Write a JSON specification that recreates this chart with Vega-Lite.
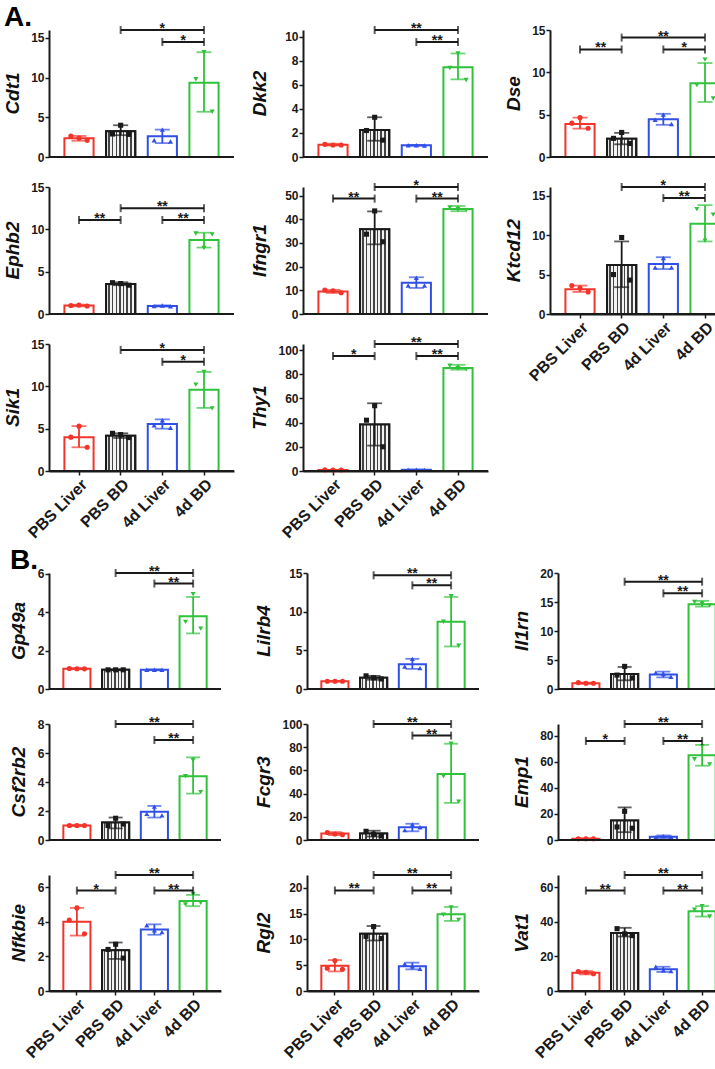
{
"$schema": "https://vega.github.io/schema/vega-lite/v6.json",
"padding": {"left": 4, "top": 4, "right": 0, "bottom": 0},
"datasets": {
"A1": [
{"gene":"Cdt1","grp":"PBS Liver","m":2.35,"lo":2.05,"hi":2.65,"p1":2.65,"p2":2.4,"p3":2.1},
{"gene":"Cdt1","grp":"PBS BD","m":3.25,"lo":2.75,"hi":4.0,"p1":2.9,"p2":4.0,"p3":2.85},
{"gene":"Cdt1","grp":"4d Liver","m":2.6,"lo":1.75,"hi":3.45,"p1":2.1,"p2":3.45,"p3":1.95},
{"gene":"Cdt1","grp":"4d BD","m":9.35,"lo":5.7,"hi":13.2,"p1":9.8,"p2":13.2,"p3":5.7},
{"gene":"Cdt1","from":"PBS BD","to":"4d BD","by":16.0,"lab":"*"},
{"gene":"Cdt1","from":"4d Liver","to":"4d BD","by":14.5,"lab":"*"},
{"gene":"Cdt1","top":15},
{"gene":"Ephb2","grp":"PBS Liver","m":1.0,"lo":0.9,"hi":1.1,"p1":1.0,"p2":1.05,"p3":0.95},
{"gene":"Ephb2","grp":"PBS BD","m":3.55,"lo":3.4,"hi":3.75,"p1":3.7,"p2":3.6,"p3":3.4},
{"gene":"Ephb2","grp":"4d Liver","m":0.95,"lo":0.88,"hi":1.02,"p1":0.95,"p2":1.0,"p3":0.92},
{"gene":"Ephb2","grp":"4d BD","m":8.75,"lo":7.85,"hi":9.6,"p1":9.5,"p2":7.8,"p3":9.4},
{"gene":"Ephb2","from":"PBS Liver","to":"PBS BD","by":11.1,"lab":"**"},
{"gene":"Ephb2","from":"PBS BD","to":"4d BD","by":12.5,"lab":"**"},
{"gene":"Ephb2","from":"4d Liver","to":"4d BD","by":11.1,"lab":"**"},
{"gene":"Ephb2","top":15},
{"gene":"Sik1","grp":"PBS Liver","m":4.0,"lo":2.8,"hi":5.3,"p1":4.0,"p2":5.3,"p3":2.8},
{"gene":"Sik1","grp":"PBS BD","m":4.15,"lo":3.9,"hi":4.45,"p1":4.45,"p2":4.3,"p3":3.95},
{"gene":"Sik1","grp":"4d Liver","m":5.55,"lo":5.0,"hi":6.1,"p1":5.4,"p2":6.0,"p3":5.1},
{"gene":"Sik1","grp":"4d BD","m":9.6,"lo":7.45,"hi":11.7,"p1":10.2,"p2":11.7,"p3":7.4},
{"gene":"Sik1","from":"PBS BD","to":"4d BD","by":14.3,"lab":"*"},
{"gene":"Sik1","from":"4d Liver","to":"4d BD","by":12.9,"lab":"*"},
{"gene":"Sik1","top":15}
],
"A2": [
{"gene":"Dkk2","grp":"PBS Liver","m":1.02,"lo":0.95,"hi":1.1,"p1":1.05,"p2":1.0,"p3":1.0},
{"gene":"Dkk2","grp":"PBS BD","m":2.25,"lo":1.35,"hi":3.3,"p1":2.2,"p2":3.3,"p3":1.4},
{"gene":"Dkk2","grp":"4d Liver","m":0.97,"lo":0.93,"hi":1.0,"p1":0.98,"p2":0.97,"p3":0.96},
{"gene":"Dkk2","grp":"4d BD","m":7.45,"lo":6.45,"hi":8.6,"p1":7.4,"p2":8.6,"p3":6.4},
{"gene":"Dkk2","from":"PBS BD","to":"4d BD","by":10.55,"lab":"**"},
{"gene":"Dkk2","from":"4d Liver","to":"4d BD","by":9.55,"lab":"**"},
{"gene":"Dkk2","top":10},
{"gene":"Ifngr1","grp":"PBS Liver","m":9.5,"lo":8.9,"hi":10.2,"p1":10.1,"p2":9.8,"p3":9.0},
{"gene":"Ifngr1","grp":"PBS BD","m":35.8,"lo":29.4,"hi":43.3,"p1":33.7,"p2":43.5,"p3":30.5},
{"gene":"Ifngr1","grp":"4d Liver","m":13.2,"lo":11.0,"hi":15.5,"p1":12.0,"p2":15.3,"p3":12.0},
{"gene":"Ifngr1","grp":"4d BD","m":44.3,"lo":43.4,"hi":45.6,"p1":45.0,"p2":44.3,"p3":43.8},
{"gene":"Ifngr1","from":"PBS Liver","to":"PBS BD","by":48.7,"lab":"**"},
{"gene":"Ifngr1","from":"PBS BD","to":"4d BD","by":53.6,"lab":"*"},
{"gene":"Ifngr1","from":"4d Liver","to":"4d BD","by":48.7,"lab":"**"},
{"gene":"Ifngr1","top":50},
{"gene":"Thy1","grp":"PBS Liver","m":0.8,"lo":0.6,"hi":1.0,"p1":0.9,"p2":0.8,"p3":0.8},
{"gene":"Thy1","grp":"PBS BD","m":38.5,"lo":21,"hi":56,"p1":42,"p2":54,"p3":20},
{"gene":"Thy1","grp":"4d Liver","m":1.0,"lo":0.8,"hi":1.2,"p1":1.0,"p2":1.1,"p3":0.9},
{"gene":"Thy1","grp":"4d BD","m":85.2,"lo":83.8,"hi":87.8,"p1":87,"p2":85,"p3":84},
{"gene":"Thy1","from":"PBS Liver","to":"PBS BD","by":95,"lab":"*"},
{"gene":"Thy1","from":"PBS BD","to":"4d BD","by":105,"lab":"**"},
{"gene":"Thy1","from":"4d Liver","to":"4d BD","by":95,"lab":"**"},
{"gene":"Thy1","top":100}
],
"A3": [
{"gene":"Dse","grp":"PBS Liver","m":3.9,"lo":3.35,"hi":4.65,"p1":4.0,"p2":4.65,"p3":3.4},
{"gene":"Dse","grp":"PBS BD","m":2.15,"lo":1.5,"hi":2.85,"p1":2.2,"p2":2.9,"p3":1.6},
{"gene":"Dse","grp":"4d Liver","m":4.45,"lo":3.8,"hi":5.1,"p1":4.4,"p2":5.0,"p3":3.9},
{"gene":"Dse","grp":"4d BD","m":8.7,"lo":6.5,"hi":11.1,"p1":8.5,"p2":11.5,"p3":6.9},
{"gene":"Dse","from":"PBS Liver","to":"PBS BD","by":12.7,"lab":"**"},
{"gene":"Dse","from":"PBS BD","to":"4d BD","by":14.1,"lab":"**"},
{"gene":"Dse","from":"4d Liver","to":"4d BD","by":12.7,"lab":"*"},
{"gene":"Dse","top":15},
{"gene":"Ktcd12","grp":"PBS Liver","m":3.15,"lo":2.8,"hi":3.6,"p1":3.6,"p2":3.3,"p3":2.8},
{"gene":"Ktcd12","grp":"PBS BD","m":6.2,"lo":3.4,"hi":9.2,"p1":5.0,"p2":9.7,"p3":4.3},
{"gene":"Ktcd12","grp":"4d Liver","m":6.35,"lo":5.7,"hi":7.2,"p1":5.9,"p2":7.1,"p3":5.9},
{"gene":"Ktcd12","grp":"4d BD","m":11.45,"lo":9.2,"hi":13.8,"p1":13.3,"p2":9.3,"p3":12.6},
{"gene":"Ktcd12","from":"PBS BD","to":"4d BD","by":16.1,"lab":"*"},
{"gene":"Ktcd12","from":"4d Liver","to":"4d BD","by":14.7,"lab":"**"},
{"gene":"Ktcd12","top":15}
],
"B1": [
{"gene":"Gp49a","grp":"PBS Liver","m":1.06,"lo":1.03,"hi":1.09,"p1":1.07,"p2":1.06,"p3":1.05},
{"gene":"Gp49a","grp":"PBS BD","m":1.0,"lo":0.98,"hi":1.02,"p1":1.0,"p2":1.0,"p3":1.0},
{"gene":"Gp49a","grp":"4d Liver","m":1.0,"lo":0.98,"hi":1.02,"p1":1.0,"p2":1.0,"p3":1.0},
{"gene":"Gp49a","grp":"4d BD","m":3.8,"lo":2.9,"hi":4.8,"p1":3.5,"p2":4.95,"p3":3.15},
{"gene":"Gp49a","from":"PBS BD","to":"4d BD","by":6.05,"lab":"**"},
{"gene":"Gp49a","from":"4d Liver","to":"4d BD","by":5.5,"lab":"**"},
{"gene":"Gp49a","top":6},
{"gene":"Csf2rb2","grp":"PBS Liver","m":1.0,"lo":0.95,"hi":1.05,"p1":1.0,"p2":1.0,"p3":1.0},
{"gene":"Csf2rb2","grp":"PBS BD","m":1.2,"lo":0.8,"hi":1.55,"p1":1.0,"p2":1.5,"p3":1.1},
{"gene":"Csf2rb2","grp":"4d Liver","m":1.95,"lo":1.55,"hi":2.35,"p1":1.8,"p2":2.3,"p3":1.7},
{"gene":"Csf2rb2","grp":"4d BD","m":4.4,"lo":3.2,"hi":5.7,"p1":4.4,"p2":5.5,"p3":3.3},
{"gene":"Csf2rb2","from":"PBS BD","to":"4d BD","by":8.0,"lab":"**"},
{"gene":"Csf2rb2","from":"4d Liver","to":"4d BD","by":6.9,"lab":"**"},
{"gene":"Csf2rb2","top":8},
{"gene":"Nfkbie","grp":"PBS Liver","m":4.0,"lo":3.2,"hi":4.8,"p1":4.1,"p2":4.8,"p3":3.3},
{"gene":"Nfkbie","grp":"PBS BD","m":2.35,"lo":1.85,"hi":2.8,"p1":2.4,"p2":2.7,"p3":1.9},
{"gene":"Nfkbie","grp":"4d Liver","m":3.55,"lo":3.25,"hi":3.85,"p1":3.8,"p2":3.5,"p3":3.4},
{"gene":"Nfkbie","grp":"4d BD","m":5.2,"lo":4.9,"hi":5.55,"p1":5.0,"p2":5.6,"p3":5.1},
{"gene":"Nfkbie","from":"PBS Liver","to":"PBS BD","by":5.8,"lab":"*"},
{"gene":"Nfkbie","from":"PBS BD","to":"4d BD","by":6.7,"lab":"**"},
{"gene":"Nfkbie","from":"4d Liver","to":"4d BD","by":5.8,"lab":"**"},
{"gene":"Nfkbie","top":6}
],
"B2": [
{"gene":"Lilrb4","grp":"PBS Liver","m":1.0,"lo":0.95,"hi":1.05,"p1":1.0,"p2":1.0,"p3":1.0},
{"gene":"Lilrb4","grp":"PBS BD","m":1.45,"lo":1.2,"hi":1.7,"p1":1.7,"p2":1.45,"p3":1.3},
{"gene":"Lilrb4","grp":"4d Liver","m":3.2,"lo":2.6,"hi":3.9,"p1":2.9,"p2":3.9,"p3":2.7},
{"gene":"Lilrb4","grp":"4d BD","m":8.7,"lo":5.5,"hi":11.9,"p1":8.7,"p2":12.0,"p3":5.6},
{"gene":"Lilrb4","from":"PBS BD","to":"4d BD","by":14.7,"lab":"**"},
{"gene":"Lilrb4","from":"4d Liver","to":"4d BD","by":13.4,"lab":"**"},
{"gene":"Lilrb4","top":15},
{"gene":"Fcgr3","grp":"PBS Liver","m":5.5,"lo":4.2,"hi":6.8,"p1":6.5,"p2":5.2,"p3":4.5},
{"gene":"Fcgr3","grp":"PBS BD","m":5.5,"lo":3.0,"hi":8.0,"p1":7.5,"p2":5.0,"p3":3.5},
{"gene":"Fcgr3","grp":"4d Liver","m":11,"lo":7.5,"hi":14,"p1":8.5,"p2":13.5,"p3":11},
{"gene":"Fcgr3","grp":"4d BD","m":57,"lo":32,"hi":83,"p1":55,"p2":83,"p3":33},
{"gene":"Fcgr3","from":"PBS BD","to":"4d BD","by":100,"lab":"**"},
{"gene":"Fcgr3","from":"4d Liver","to":"4d BD","by":90,"lab":"**"},
{"gene":"Fcgr3","top":100},
{"gene":"Rgl2","grp":"PBS Liver","m":4.9,"lo":3.8,"hi":6.0,"p1":4.4,"p2":5.9,"p3":4.2},
{"gene":"Rgl2","grp":"PBS BD","m":11.1,"lo":9.8,"hi":12.6,"p1":10.6,"p2":12.5,"p3":10.2},
{"gene":"Rgl2","grp":"4d Liver","m":4.8,"lo":4.2,"hi":5.5,"p1":5.3,"p2":4.8,"p3":4.3},
{"gene":"Rgl2","grp":"4d BD","m":14.9,"lo":13.6,"hi":16.3,"p1":14.8,"p2":16.2,"p3":13.8},
{"gene":"Rgl2","from":"PBS Liver","to":"PBS BD","by":19.5,"lab":"**"},
{"gene":"Rgl2","from":"PBS BD","to":"4d BD","by":22.5,"lab":"**"},
{"gene":"Rgl2","from":"4d Liver","to":"4d BD","by":19.5,"lab":"**"},
{"gene":"Rgl2","top":20}
],
"B3": [
{"gene":"Il1rn","grp":"PBS Liver","m":1.0,"lo":0.9,"hi":1.1,"p1":1.1,"p2":1.0,"p3":1.0},
{"gene":"Il1rn","grp":"PBS BD","m":2.6,"lo":1.5,"hi":3.8,"p1":2.4,"p2":3.9,"p3":1.9},
{"gene":"Il1rn","grp":"4d Liver","m":2.5,"lo":2.0,"hi":3.0,"p1":2.8,"p2":2.6,"p3":2.1},
{"gene":"Il1rn","grp":"4d BD","m":14.6,"lo":14.2,"hi":15.2,"p1":15.0,"p2":14.7,"p3":14.4},
{"gene":"Il1rn","from":"PBS BD","to":"4d BD","by":18.5,"lab":"**"},
{"gene":"Il1rn","from":"4d Liver","to":"4d BD","by":16.5,"lab":"**"},
{"gene":"Il1rn","top":20},
{"gene":"Emp1","grp":"PBS Liver","m":1.0,"lo":0.7,"hi":1.3,"p1":1.0,"p2":1.0,"p3":1.0},
{"gene":"Emp1","grp":"PBS BD","m":15,"lo":6,"hi":25,"p1":10,"p2":22,"p3":9},
{"gene":"Emp1","grp":"4d Liver","m":2.5,"lo":1.5,"hi":3.5,"p1":2.0,"p2":3.0,"p3":2.5},
{"gene":"Emp1","grp":"4d BD","m":65,"lo":57,"hi":73,"p1":62,"p2":72,"p3":58},
{"gene":"Emp1","from":"PBS Liver","to":"PBS BD","by":76,"lab":"*"},
{"gene":"Emp1","from":"PBS BD","to":"4d BD","by":89,"lab":"**"},
{"gene":"Emp1","from":"4d Liver","to":"4d BD","by":76,"lab":"**"},
{"gene":"Emp1","top":80},
{"gene":"Vat1","grp":"PBS Liver","m":10.5,"lo":9.6,"hi":11.5,"p1":11.2,"p2":10.8,"p3":10.0},
{"gene":"Vat1","grp":"PBS BD","m":33.5,"lo":31.5,"hi":36.5,"p1":36,"p2":33,"p3":32},
{"gene":"Vat1","grp":"4d Liver","m":12.5,"lo":11,"hi":14,"p1":14,"p2":12,"p3":11.5},
{"gene":"Vat1","grp":"4d BD","m":46,"lo":43,"hi":49,"p1":47,"p2":49,"p3":43},
{"gene":"Vat1","from":"PBS Liver","to":"PBS BD","by":58,"lab":"**"},
{"gene":"Vat1","from":"PBS BD","to":"4d BD","by":67,"lab":"**"},
{"gene":"Vat1","from":"4d Liver","to":"4d BD","by":58,"lab":"**"},
{"gene":"Vat1","top":60}
]
},
"vconcat": [
{"title": "A.", "spacing": 16, "hconcat": [
{"data":{"name":"A1"},"facet":{"row":{"field":"gene","type":"nominal","sort":["Cdt1","Ephb2","Sik1"],"title":null,"header":{"labelPadding":17}}},"spacing":{"row":30},"bounds":"flush","resolve":{"scale":{"y":"independent"}},"spec":{"width":185,"height":127,"layer":[
{"transform":[{"filter":{"field":"m","valid":true}}],"mark":{"type":"bar","fill":"white","strokeWidth":2},"encoding":{"x":{"field":"grp","type":"nominal","title":null,"scale":{"domain":["PBS Liver","PBS BD","4d Liver","4d BD"]}},"y":{"field":"m","type":"quantitative","title":null,"scale":{"nice":false}},"stroke":{"field":"grp","type":"nominal","scale":{"domain":["PBS Liver","PBS BD","4d Liver","4d BD"],"range":["#f2342a","#1a1a1a","#2f4fe6","#2fc23a"]},"legend":null}}},
{"transform":[{"filter":"datum.grp==='PBS BD'"}],"mark":{"type":"bar","stroke":"#1a1a1a","strokeWidth":2,"fill":{"gradient":"linear","x1":0,"y1":0,"x2":1,"y2":0,"stops":[{"offset":0,"color":"#f2f2f2"},{"offset":0.075,"color":"#f2f2f2"},{"offset":0.075,"color":"#444"},{"offset":0.125,"color":"#444"},{"offset":0.125,"color":"#f2f2f2"},{"offset":0.2,"color":"#f2f2f2"},{"offset":0.2,"color":"#444"},{"offset":0.25,"color":"#444"},{"offset":0.25,"color":"#f2f2f2"},{"offset":0.325,"color":"#f2f2f2"},{"offset":0.325,"color":"#444"},{"offset":0.375,"color":"#444"},{"offset":0.375,"color":"#f2f2f2"},{"offset":0.45,"color":"#f2f2f2"},{"offset":0.45,"color":"#444"},{"offset":0.5,"color":"#444"},{"offset":0.5,"color":"#f2f2f2"},{"offset":0.575,"color":"#f2f2f2"},{"offset":0.575,"color":"#444"},{"offset":0.625,"color":"#444"},{"offset":0.625,"color":"#f2f2f2"},{"offset":0.7,"color":"#f2f2f2"},{"offset":0.7,"color":"#444"},{"offset":0.75,"color":"#444"},{"offset":0.75,"color":"#f2f2f2"},{"offset":0.825,"color":"#f2f2f2"},{"offset":0.825,"color":"#444"},{"offset":0.875,"color":"#444"},{"offset":0.875,"color":"#f2f2f2"},{"offset":0.95,"color":"#f2f2f2"},{"offset":0.95,"color":"#444"},{"offset":1,"color":"#444"}]}},"encoding":{"x":{"field":"grp","type":"nominal","title":null},"y":{"field":"m","type":"quantitative","title":null}}},
{"transform":[{"filter":{"field":"m","valid":true}}],"mark":{"type":"rule","strokeWidth":1.8},"encoding":{"x":{"field":"grp","type":"nominal","title":null},"y":{"field":"lo","type":"quantitative","title":null},"y2":{"field":"hi"},"color":{"field":"grp","type":"nominal","scale":{"domain":["PBS Liver","PBS BD","4d Liver","4d BD"],"range":["#f2342a","#1a1a1a","#2f4fe6","#2fc23a"]},"legend":null}}},
{"transform":[{"filter":{"field":"m","valid":true}},{"fold":["lo","hi"],"as":["e","ev"]}],"mark":{"type":"tick","size":15,"thickness":1.8},"encoding":{"x":{"field":"grp","type":"nominal","title":null},"y":{"field":"ev","type":"quantitative","title":null},"color":{"field":"grp","type":"nominal","legend":null}}},
{"transform":[{"filter":{"field":"m","valid":true}}],"mark":{"type":"point","filled":true,"opacity":1,"size":26},"encoding":{"x":{"field":"grp","type":"nominal","title":null,"bandPosition":0.22},"y":{"field":"p1","type":"quantitative","title":null},"color":{"field":"grp","type":"nominal","legend":null},"shape":{"field":"grp","type":"nominal","scale":{"domain":["PBS Liver","PBS BD","4d Liver","4d BD"],"range":["circle","square","triangle-up","triangle-down"]},"legend":null}}},
{"transform":[{"filter":{"field":"m","valid":true}}],"mark":{"type":"point","filled":true,"opacity":1,"size":26},"encoding":{"x":{"field":"grp","type":"nominal","title":null},"y":{"field":"p2","type":"quantitative","title":null},"color":{"field":"grp","type":"nominal","legend":null},"shape":{"field":"grp","type":"nominal","legend":null}}},
{"transform":[{"filter":{"field":"m","valid":true}}],"mark":{"type":"point","filled":true,"opacity":1,"size":26},"encoding":{"x":{"field":"grp","type":"nominal","title":null,"bandPosition":0.78},"y":{"field":"p3","type":"quantitative","title":null},"color":{"field":"grp","type":"nominal","legend":null},"shape":{"field":"grp","type":"nominal","legend":null}}},
{"transform":[{"filter":{"field":"top","valid":true}}],"mark":{"type":"rule","strokeWidth":2,"color":"#1a1a1a"},"encoding":{"y":{"datum":0,"type":"quantitative"}}},
{"transform":[{"filter":{"field":"top","valid":true}}],"mark":{"type":"point","opacity":0},"encoding":{"y":{"field":"top","type":"quantitative","title":null}}},
{"transform":[{"filter":{"field":"by","valid":true}}],"mark":{"type":"rule","strokeWidth":2,"color":"#1a1a1a"},"encoding":{"x":{"field":"from","type":"nominal","title":null},"x2":{"field":"to"},"y":{"field":"by","type":"quantitative","title":null}}},
{"transform":[{"filter":{"field":"by","valid":true}},{"fold":["from","to"],"as":["end","ex"]}],"mark":{"type":"tick","orient":"vertical","size":8,"thickness":2,"color":"#1a1a1a"},"encoding":{"x":{"field":"ex","type":"nominal","title":null},"y":{"field":"by","type":"quantitative","title":null}}},
{"transform":[{"filter":"datum.from==='PBS BD'"}],"mark":{"type":"text","baseline":"alphabetic","dy":3,"fontSize":14,"fontWeight":"bold","color":"#1a1a1a"},"encoding":{"x":{"datum":"4d Liver","type":"nominal"},"y":{"field":"by","type":"quantitative","title":null},"text":{"field":"lab"}}},
{"transform":[{"filter":"datum.from==='PBS Liver' || datum.from==='4d Liver'"}],"mark":{"type":"text","baseline":"alphabetic","dy":3,"dx":20.8,"fontSize":14,"fontWeight":"bold","color":"#1a1a1a"},"encoding":{"x":{"field":"from","type":"nominal","title":null},"y":{"field":"by","type":"quantitative","title":null},"text":{"field":"lab"}}}
]}},
{"data":{"name":"A2"},"facet":{"row":{"field":"gene","type":"nominal","sort":["Dkk2","Ifngr1","Thy1"],"title":null,"header":{"labelPadding":24}}},"spacing":{"row":30},"bounds":"flush","resolve":{"scale":{"y":"independent"}},"spec":{"width":185,"height":127,"layer":[
{"transform":[{"filter":{"field":"m","valid":true}}],"mark":{"type":"bar","fill":"white","strokeWidth":2},"encoding":{"x":{"field":"grp","type":"nominal","title":null,"scale":{"domain":["PBS Liver","PBS BD","4d Liver","4d BD"]}},"y":{"field":"m","type":"quantitative","title":null,"scale":{"nice":false}},"stroke":{"field":"grp","type":"nominal","scale":{"domain":["PBS Liver","PBS BD","4d Liver","4d BD"],"range":["#f2342a","#1a1a1a","#2f4fe6","#2fc23a"]},"legend":null}}},
{"transform":[{"filter":"datum.grp==='PBS BD'"}],"mark":{"type":"bar","stroke":"#1a1a1a","strokeWidth":2,"fill":{"gradient":"linear","x1":0,"y1":0,"x2":1,"y2":0,"stops":[{"offset":0,"color":"#f2f2f2"},{"offset":0.075,"color":"#f2f2f2"},{"offset":0.075,"color":"#444"},{"offset":0.125,"color":"#444"},{"offset":0.125,"color":"#f2f2f2"},{"offset":0.2,"color":"#f2f2f2"},{"offset":0.2,"color":"#444"},{"offset":0.25,"color":"#444"},{"offset":0.25,"color":"#f2f2f2"},{"offset":0.325,"color":"#f2f2f2"},{"offset":0.325,"color":"#444"},{"offset":0.375,"color":"#444"},{"offset":0.375,"color":"#f2f2f2"},{"offset":0.45,"color":"#f2f2f2"},{"offset":0.45,"color":"#444"},{"offset":0.5,"color":"#444"},{"offset":0.5,"color":"#f2f2f2"},{"offset":0.575,"color":"#f2f2f2"},{"offset":0.575,"color":"#444"},{"offset":0.625,"color":"#444"},{"offset":0.625,"color":"#f2f2f2"},{"offset":0.7,"color":"#f2f2f2"},{"offset":0.7,"color":"#444"},{"offset":0.75,"color":"#444"},{"offset":0.75,"color":"#f2f2f2"},{"offset":0.825,"color":"#f2f2f2"},{"offset":0.825,"color":"#444"},{"offset":0.875,"color":"#444"},{"offset":0.875,"color":"#f2f2f2"},{"offset":0.95,"color":"#f2f2f2"},{"offset":0.95,"color":"#444"},{"offset":1,"color":"#444"}]}},"encoding":{"x":{"field":"grp","type":"nominal","title":null},"y":{"field":"m","type":"quantitative","title":null}}},
{"transform":[{"filter":{"field":"m","valid":true}}],"mark":{"type":"rule","strokeWidth":1.8},"encoding":{"x":{"field":"grp","type":"nominal","title":null},"y":{"field":"lo","type":"quantitative","title":null},"y2":{"field":"hi"},"color":{"field":"grp","type":"nominal","scale":{"domain":["PBS Liver","PBS BD","4d Liver","4d BD"],"range":["#f2342a","#1a1a1a","#2f4fe6","#2fc23a"]},"legend":null}}},
{"transform":[{"filter":{"field":"m","valid":true}},{"fold":["lo","hi"],"as":["e","ev"]}],"mark":{"type":"tick","size":15,"thickness":1.8},"encoding":{"x":{"field":"grp","type":"nominal","title":null},"y":{"field":"ev","type":"quantitative","title":null},"color":{"field":"grp","type":"nominal","legend":null}}},
{"transform":[{"filter":{"field":"m","valid":true}}],"mark":{"type":"point","filled":true,"opacity":1,"size":26},"encoding":{"x":{"field":"grp","type":"nominal","title":null,"bandPosition":0.22},"y":{"field":"p1","type":"quantitative","title":null},"color":{"field":"grp","type":"nominal","legend":null},"shape":{"field":"grp","type":"nominal","scale":{"domain":["PBS Liver","PBS BD","4d Liver","4d BD"],"range":["circle","square","triangle-up","triangle-down"]},"legend":null}}},
{"transform":[{"filter":{"field":"m","valid":true}}],"mark":{"type":"point","filled":true,"opacity":1,"size":26},"encoding":{"x":{"field":"grp","type":"nominal","title":null},"y":{"field":"p2","type":"quantitative","title":null},"color":{"field":"grp","type":"nominal","legend":null},"shape":{"field":"grp","type":"nominal","legend":null}}},
{"transform":[{"filter":{"field":"m","valid":true}}],"mark":{"type":"point","filled":true,"opacity":1,"size":26},"encoding":{"x":{"field":"grp","type":"nominal","title":null,"bandPosition":0.78},"y":{"field":"p3","type":"quantitative","title":null},"color":{"field":"grp","type":"nominal","legend":null},"shape":{"field":"grp","type":"nominal","legend":null}}},
{"transform":[{"filter":{"field":"top","valid":true}}],"mark":{"type":"rule","strokeWidth":2,"color":"#1a1a1a"},"encoding":{"y":{"datum":0,"type":"quantitative"}}},
{"transform":[{"filter":{"field":"top","valid":true}}],"mark":{"type":"point","opacity":0},"encoding":{"y":{"field":"top","type":"quantitative","title":null}}},
{"transform":[{"filter":{"field":"by","valid":true}}],"mark":{"type":"rule","strokeWidth":2,"color":"#1a1a1a"},"encoding":{"x":{"field":"from","type":"nominal","title":null},"x2":{"field":"to"},"y":{"field":"by","type":"quantitative","title":null}}},
{"transform":[{"filter":{"field":"by","valid":true}},{"fold":["from","to"],"as":["end","ex"]}],"mark":{"type":"tick","orient":"vertical","size":8,"thickness":2,"color":"#1a1a1a"},"encoding":{"x":{"field":"ex","type":"nominal","title":null},"y":{"field":"by","type":"quantitative","title":null}}},
{"transform":[{"filter":"datum.from==='PBS BD'"}],"mark":{"type":"text","baseline":"alphabetic","dy":3,"fontSize":14,"fontWeight":"bold","color":"#1a1a1a"},"encoding":{"x":{"datum":"4d Liver","type":"nominal"},"y":{"field":"by","type":"quantitative","title":null},"text":{"field":"lab"}}},
{"transform":[{"filter":"datum.from==='PBS Liver' || datum.from==='4d Liver'"}],"mark":{"type":"text","baseline":"alphabetic","dy":3,"dx":20.8,"fontSize":14,"fontWeight":"bold","color":"#1a1a1a"},"encoding":{"x":{"field":"from","type":"nominal","title":null},"y":{"field":"by","type":"quantitative","title":null},"text":{"field":"lab"}}}
]}},
{"data":{"name":"A3"},"facet":{"row":{"field":"gene","type":"nominal","sort":["Dse","Ktcd12"],"title":null,"header":{"labelPadding":17}}},"spacing":{"row":30},"bounds":"flush","resolve":{"scale":{"y":"independent"}},"spec":{"width":185,"height":127,"layer":[
{"transform":[{"filter":{"field":"m","valid":true}}],"mark":{"type":"bar","fill":"white","strokeWidth":2},"encoding":{"x":{"field":"grp","type":"nominal","title":null,"scale":{"domain":["PBS Liver","PBS BD","4d Liver","4d BD"]}},"y":{"field":"m","type":"quantitative","title":null,"scale":{"nice":false}},"stroke":{"field":"grp","type":"nominal","scale":{"domain":["PBS Liver","PBS BD","4d Liver","4d BD"],"range":["#f2342a","#1a1a1a","#2f4fe6","#2fc23a"]},"legend":null}}},
{"transform":[{"filter":"datum.grp==='PBS BD'"}],"mark":{"type":"bar","stroke":"#1a1a1a","strokeWidth":2,"fill":{"gradient":"linear","x1":0,"y1":0,"x2":1,"y2":0,"stops":[{"offset":0,"color":"#f2f2f2"},{"offset":0.075,"color":"#f2f2f2"},{"offset":0.075,"color":"#444"},{"offset":0.125,"color":"#444"},{"offset":0.125,"color":"#f2f2f2"},{"offset":0.2,"color":"#f2f2f2"},{"offset":0.2,"color":"#444"},{"offset":0.25,"color":"#444"},{"offset":0.25,"color":"#f2f2f2"},{"offset":0.325,"color":"#f2f2f2"},{"offset":0.325,"color":"#444"},{"offset":0.375,"color":"#444"},{"offset":0.375,"color":"#f2f2f2"},{"offset":0.45,"color":"#f2f2f2"},{"offset":0.45,"color":"#444"},{"offset":0.5,"color":"#444"},{"offset":0.5,"color":"#f2f2f2"},{"offset":0.575,"color":"#f2f2f2"},{"offset":0.575,"color":"#444"},{"offset":0.625,"color":"#444"},{"offset":0.625,"color":"#f2f2f2"},{"offset":0.7,"color":"#f2f2f2"},{"offset":0.7,"color":"#444"},{"offset":0.75,"color":"#444"},{"offset":0.75,"color":"#f2f2f2"},{"offset":0.825,"color":"#f2f2f2"},{"offset":0.825,"color":"#444"},{"offset":0.875,"color":"#444"},{"offset":0.875,"color":"#f2f2f2"},{"offset":0.95,"color":"#f2f2f2"},{"offset":0.95,"color":"#444"},{"offset":1,"color":"#444"}]}},"encoding":{"x":{"field":"grp","type":"nominal","title":null},"y":{"field":"m","type":"quantitative","title":null}}},
{"transform":[{"filter":{"field":"m","valid":true}}],"mark":{"type":"rule","strokeWidth":1.8},"encoding":{"x":{"field":"grp","type":"nominal","title":null},"y":{"field":"lo","type":"quantitative","title":null},"y2":{"field":"hi"},"color":{"field":"grp","type":"nominal","scale":{"domain":["PBS Liver","PBS BD","4d Liver","4d BD"],"range":["#f2342a","#1a1a1a","#2f4fe6","#2fc23a"]},"legend":null}}},
{"transform":[{"filter":{"field":"m","valid":true}},{"fold":["lo","hi"],"as":["e","ev"]}],"mark":{"type":"tick","size":15,"thickness":1.8},"encoding":{"x":{"field":"grp","type":"nominal","title":null},"y":{"field":"ev","type":"quantitative","title":null},"color":{"field":"grp","type":"nominal","legend":null}}},
{"transform":[{"filter":{"field":"m","valid":true}}],"mark":{"type":"point","filled":true,"opacity":1,"size":26},"encoding":{"x":{"field":"grp","type":"nominal","title":null,"bandPosition":0.22},"y":{"field":"p1","type":"quantitative","title":null},"color":{"field":"grp","type":"nominal","legend":null},"shape":{"field":"grp","type":"nominal","scale":{"domain":["PBS Liver","PBS BD","4d Liver","4d BD"],"range":["circle","square","triangle-up","triangle-down"]},"legend":null}}},
{"transform":[{"filter":{"field":"m","valid":true}}],"mark":{"type":"point","filled":true,"opacity":1,"size":26},"encoding":{"x":{"field":"grp","type":"nominal","title":null},"y":{"field":"p2","type":"quantitative","title":null},"color":{"field":"grp","type":"nominal","legend":null},"shape":{"field":"grp","type":"nominal","legend":null}}},
{"transform":[{"filter":{"field":"m","valid":true}}],"mark":{"type":"point","filled":true,"opacity":1,"size":26},"encoding":{"x":{"field":"grp","type":"nominal","title":null,"bandPosition":0.78},"y":{"field":"p3","type":"quantitative","title":null},"color":{"field":"grp","type":"nominal","legend":null},"shape":{"field":"grp","type":"nominal","legend":null}}},
{"transform":[{"filter":{"field":"top","valid":true}}],"mark":{"type":"rule","strokeWidth":2,"color":"#1a1a1a"},"encoding":{"y":{"datum":0,"type":"quantitative"}}},
{"transform":[{"filter":{"field":"top","valid":true}}],"mark":{"type":"point","opacity":0},"encoding":{"y":{"field":"top","type":"quantitative","title":null}}},
{"transform":[{"filter":{"field":"by","valid":true}}],"mark":{"type":"rule","strokeWidth":2,"color":"#1a1a1a"},"encoding":{"x":{"field":"from","type":"nominal","title":null},"x2":{"field":"to"},"y":{"field":"by","type":"quantitative","title":null}}},
{"transform":[{"filter":{"field":"by","valid":true}},{"fold":["from","to"],"as":["end","ex"]}],"mark":{"type":"tick","orient":"vertical","size":8,"thickness":2,"color":"#1a1a1a"},"encoding":{"x":{"field":"ex","type":"nominal","title":null},"y":{"field":"by","type":"quantitative","title":null}}},
{"transform":[{"filter":"datum.from==='PBS BD'"}],"mark":{"type":"text","baseline":"alphabetic","dy":3,"fontSize":14,"fontWeight":"bold","color":"#1a1a1a"},"encoding":{"x":{"datum":"4d Liver","type":"nominal"},"y":{"field":"by","type":"quantitative","title":null},"text":{"field":"lab"}}},
{"transform":[{"filter":"datum.from==='PBS Liver' || datum.from==='4d Liver'"}],"mark":{"type":"text","baseline":"alphabetic","dy":3,"dx":20.8,"fontSize":14,"fontWeight":"bold","color":"#1a1a1a"},"encoding":{"x":{"field":"from","type":"nominal","title":null},"y":{"field":"by","type":"quantitative","title":null},"text":{"field":"lab"}}}
]}}
]},
{"title": "B.", "spacing": 33, "hconcat": [
{"data":{"name":"B1"},"facet":{"row":{"field":"gene","type":"nominal","sort":["Gp49a","Csf2rb2","Nfkbie"],"title":null,"header":{"labelPadding":11}}},"spacing":{"row":35},"bounds":"flush","resolve":{"scale":{"y":"independent"}},"spec":{"width":172,"height":116,"layer":[
{"transform":[{"filter":{"field":"m","valid":true}}],"mark":{"type":"bar","fill":"white","strokeWidth":2},"encoding":{"x":{"field":"grp","type":"nominal","title":null,"scale":{"domain":["PBS Liver","PBS BD","4d Liver","4d BD"]}},"y":{"field":"m","type":"quantitative","title":null,"scale":{"nice":false}},"stroke":{"field":"grp","type":"nominal","scale":{"domain":["PBS Liver","PBS BD","4d Liver","4d BD"],"range":["#f2342a","#1a1a1a","#2f4fe6","#2fc23a"]},"legend":null}}},
{"transform":[{"filter":"datum.grp==='PBS BD'"}],"mark":{"type":"bar","stroke":"#1a1a1a","strokeWidth":2,"fill":{"gradient":"linear","x1":0,"y1":0,"x2":1,"y2":0,"stops":[{"offset":0,"color":"#f2f2f2"},{"offset":0.075,"color":"#f2f2f2"},{"offset":0.075,"color":"#444"},{"offset":0.125,"color":"#444"},{"offset":0.125,"color":"#f2f2f2"},{"offset":0.2,"color":"#f2f2f2"},{"offset":0.2,"color":"#444"},{"offset":0.25,"color":"#444"},{"offset":0.25,"color":"#f2f2f2"},{"offset":0.325,"color":"#f2f2f2"},{"offset":0.325,"color":"#444"},{"offset":0.375,"color":"#444"},{"offset":0.375,"color":"#f2f2f2"},{"offset":0.45,"color":"#f2f2f2"},{"offset":0.45,"color":"#444"},{"offset":0.5,"color":"#444"},{"offset":0.5,"color":"#f2f2f2"},{"offset":0.575,"color":"#f2f2f2"},{"offset":0.575,"color":"#444"},{"offset":0.625,"color":"#444"},{"offset":0.625,"color":"#f2f2f2"},{"offset":0.7,"color":"#f2f2f2"},{"offset":0.7,"color":"#444"},{"offset":0.75,"color":"#444"},{"offset":0.75,"color":"#f2f2f2"},{"offset":0.825,"color":"#f2f2f2"},{"offset":0.825,"color":"#444"},{"offset":0.875,"color":"#444"},{"offset":0.875,"color":"#f2f2f2"},{"offset":0.95,"color":"#f2f2f2"},{"offset":0.95,"color":"#444"},{"offset":1,"color":"#444"}]}},"encoding":{"x":{"field":"grp","type":"nominal","title":null},"y":{"field":"m","type":"quantitative","title":null}}},
{"transform":[{"filter":{"field":"m","valid":true}}],"mark":{"type":"rule","strokeWidth":1.8},"encoding":{"x":{"field":"grp","type":"nominal","title":null},"y":{"field":"lo","type":"quantitative","title":null},"y2":{"field":"hi"},"color":{"field":"grp","type":"nominal","scale":{"domain":["PBS Liver","PBS BD","4d Liver","4d BD"],"range":["#f2342a","#1a1a1a","#2f4fe6","#2fc23a"]},"legend":null}}},
{"transform":[{"filter":{"field":"m","valid":true}},{"fold":["lo","hi"],"as":["e","ev"]}],"mark":{"type":"tick","size":14,"thickness":1.8},"encoding":{"x":{"field":"grp","type":"nominal","title":null},"y":{"field":"ev","type":"quantitative","title":null},"color":{"field":"grp","type":"nominal","legend":null}}},
{"transform":[{"filter":{"field":"m","valid":true}}],"mark":{"type":"point","filled":true,"opacity":1,"size":26},"encoding":{"x":{"field":"grp","type":"nominal","title":null,"bandPosition":0.22},"y":{"field":"p1","type":"quantitative","title":null},"color":{"field":"grp","type":"nominal","legend":null},"shape":{"field":"grp","type":"nominal","scale":{"domain":["PBS Liver","PBS BD","4d Liver","4d BD"],"range":["circle","square","triangle-up","triangle-down"]},"legend":null}}},
{"transform":[{"filter":{"field":"m","valid":true}}],"mark":{"type":"point","filled":true,"opacity":1,"size":26},"encoding":{"x":{"field":"grp","type":"nominal","title":null},"y":{"field":"p2","type":"quantitative","title":null},"color":{"field":"grp","type":"nominal","legend":null},"shape":{"field":"grp","type":"nominal","legend":null}}},
{"transform":[{"filter":{"field":"m","valid":true}}],"mark":{"type":"point","filled":true,"opacity":1,"size":26},"encoding":{"x":{"field":"grp","type":"nominal","title":null,"bandPosition":0.78},"y":{"field":"p3","type":"quantitative","title":null},"color":{"field":"grp","type":"nominal","legend":null},"shape":{"field":"grp","type":"nominal","legend":null}}},
{"transform":[{"filter":{"field":"top","valid":true}}],"mark":{"type":"rule","strokeWidth":2,"color":"#1a1a1a"},"encoding":{"y":{"datum":0,"type":"quantitative"}}},
{"transform":[{"filter":{"field":"top","valid":true}}],"mark":{"type":"point","opacity":0},"encoding":{"y":{"field":"top","type":"quantitative","title":null}}},
{"transform":[{"filter":{"field":"by","valid":true}}],"mark":{"type":"rule","strokeWidth":2,"color":"#1a1a1a"},"encoding":{"x":{"field":"from","type":"nominal","title":null},"x2":{"field":"to"},"y":{"field":"by","type":"quantitative","title":null}}},
{"transform":[{"filter":{"field":"by","valid":true}},{"fold":["from","to"],"as":["end","ex"]}],"mark":{"type":"tick","orient":"vertical","size":8,"thickness":2,"color":"#1a1a1a"},"encoding":{"x":{"field":"ex","type":"nominal","title":null},"y":{"field":"by","type":"quantitative","title":null}}},
{"transform":[{"filter":"datum.from==='PBS BD'"}],"mark":{"type":"text","baseline":"alphabetic","dy":3,"fontSize":14,"fontWeight":"bold","color":"#1a1a1a"},"encoding":{"x":{"datum":"4d Liver","type":"nominal"},"y":{"field":"by","type":"quantitative","title":null},"text":{"field":"lab"}}},
{"transform":[{"filter":"datum.from==='PBS Liver' || datum.from==='4d Liver'"}],"mark":{"type":"text","baseline":"alphabetic","dy":3,"dx":19.4,"fontSize":14,"fontWeight":"bold","color":"#1a1a1a"},"encoding":{"x":{"field":"from","type":"nominal","title":null},"y":{"field":"by","type":"quantitative","title":null},"text":{"field":"lab"}}}
]}},
{"data":{"name":"B2"},"facet":{"row":{"field":"gene","type":"nominal","sort":["Lilrb4","Fcgr3","Rgl2"],"title":null,"header":{"labelPadding":24}}},"spacing":{"row":35},"bounds":"flush","resolve":{"scale":{"y":"independent"}},"spec":{"width":172,"height":116,"layer":[
{"transform":[{"filter":{"field":"m","valid":true}}],"mark":{"type":"bar","fill":"white","strokeWidth":2},"encoding":{"x":{"field":"grp","type":"nominal","title":null,"scale":{"domain":["PBS Liver","PBS BD","4d Liver","4d BD"]}},"y":{"field":"m","type":"quantitative","title":null,"scale":{"nice":false}},"stroke":{"field":"grp","type":"nominal","scale":{"domain":["PBS Liver","PBS BD","4d Liver","4d BD"],"range":["#f2342a","#1a1a1a","#2f4fe6","#2fc23a"]},"legend":null}}},
{"transform":[{"filter":"datum.grp==='PBS BD'"}],"mark":{"type":"bar","stroke":"#1a1a1a","strokeWidth":2,"fill":{"gradient":"linear","x1":0,"y1":0,"x2":1,"y2":0,"stops":[{"offset":0,"color":"#f2f2f2"},{"offset":0.075,"color":"#f2f2f2"},{"offset":0.075,"color":"#444"},{"offset":0.125,"color":"#444"},{"offset":0.125,"color":"#f2f2f2"},{"offset":0.2,"color":"#f2f2f2"},{"offset":0.2,"color":"#444"},{"offset":0.25,"color":"#444"},{"offset":0.25,"color":"#f2f2f2"},{"offset":0.325,"color":"#f2f2f2"},{"offset":0.325,"color":"#444"},{"offset":0.375,"color":"#444"},{"offset":0.375,"color":"#f2f2f2"},{"offset":0.45,"color":"#f2f2f2"},{"offset":0.45,"color":"#444"},{"offset":0.5,"color":"#444"},{"offset":0.5,"color":"#f2f2f2"},{"offset":0.575,"color":"#f2f2f2"},{"offset":0.575,"color":"#444"},{"offset":0.625,"color":"#444"},{"offset":0.625,"color":"#f2f2f2"},{"offset":0.7,"color":"#f2f2f2"},{"offset":0.7,"color":"#444"},{"offset":0.75,"color":"#444"},{"offset":0.75,"color":"#f2f2f2"},{"offset":0.825,"color":"#f2f2f2"},{"offset":0.825,"color":"#444"},{"offset":0.875,"color":"#444"},{"offset":0.875,"color":"#f2f2f2"},{"offset":0.95,"color":"#f2f2f2"},{"offset":0.95,"color":"#444"},{"offset":1,"color":"#444"}]}},"encoding":{"x":{"field":"grp","type":"nominal","title":null},"y":{"field":"m","type":"quantitative","title":null}}},
{"transform":[{"filter":{"field":"m","valid":true}}],"mark":{"type":"rule","strokeWidth":1.8},"encoding":{"x":{"field":"grp","type":"nominal","title":null},"y":{"field":"lo","type":"quantitative","title":null},"y2":{"field":"hi"},"color":{"field":"grp","type":"nominal","scale":{"domain":["PBS Liver","PBS BD","4d Liver","4d BD"],"range":["#f2342a","#1a1a1a","#2f4fe6","#2fc23a"]},"legend":null}}},
{"transform":[{"filter":{"field":"m","valid":true}},{"fold":["lo","hi"],"as":["e","ev"]}],"mark":{"type":"tick","size":14,"thickness":1.8},"encoding":{"x":{"field":"grp","type":"nominal","title":null},"y":{"field":"ev","type":"quantitative","title":null},"color":{"field":"grp","type":"nominal","legend":null}}},
{"transform":[{"filter":{"field":"m","valid":true}}],"mark":{"type":"point","filled":true,"opacity":1,"size":26},"encoding":{"x":{"field":"grp","type":"nominal","title":null,"bandPosition":0.22},"y":{"field":"p1","type":"quantitative","title":null},"color":{"field":"grp","type":"nominal","legend":null},"shape":{"field":"grp","type":"nominal","scale":{"domain":["PBS Liver","PBS BD","4d Liver","4d BD"],"range":["circle","square","triangle-up","triangle-down"]},"legend":null}}},
{"transform":[{"filter":{"field":"m","valid":true}}],"mark":{"type":"point","filled":true,"opacity":1,"size":26},"encoding":{"x":{"field":"grp","type":"nominal","title":null},"y":{"field":"p2","type":"quantitative","title":null},"color":{"field":"grp","type":"nominal","legend":null},"shape":{"field":"grp","type":"nominal","legend":null}}},
{"transform":[{"filter":{"field":"m","valid":true}}],"mark":{"type":"point","filled":true,"opacity":1,"size":26},"encoding":{"x":{"field":"grp","type":"nominal","title":null,"bandPosition":0.78},"y":{"field":"p3","type":"quantitative","title":null},"color":{"field":"grp","type":"nominal","legend":null},"shape":{"field":"grp","type":"nominal","legend":null}}},
{"transform":[{"filter":{"field":"top","valid":true}}],"mark":{"type":"rule","strokeWidth":2,"color":"#1a1a1a"},"encoding":{"y":{"datum":0,"type":"quantitative"}}},
{"transform":[{"filter":{"field":"top","valid":true}}],"mark":{"type":"point","opacity":0},"encoding":{"y":{"field":"top","type":"quantitative","title":null}}},
{"transform":[{"filter":{"field":"by","valid":true}}],"mark":{"type":"rule","strokeWidth":2,"color":"#1a1a1a"},"encoding":{"x":{"field":"from","type":"nominal","title":null},"x2":{"field":"to"},"y":{"field":"by","type":"quantitative","title":null}}},
{"transform":[{"filter":{"field":"by","valid":true}},{"fold":["from","to"],"as":["end","ex"]}],"mark":{"type":"tick","orient":"vertical","size":8,"thickness":2,"color":"#1a1a1a"},"encoding":{"x":{"field":"ex","type":"nominal","title":null},"y":{"field":"by","type":"quantitative","title":null}}},
{"transform":[{"filter":"datum.from==='PBS BD'"}],"mark":{"type":"text","baseline":"alphabetic","dy":3,"fontSize":14,"fontWeight":"bold","color":"#1a1a1a"},"encoding":{"x":{"datum":"4d Liver","type":"nominal"},"y":{"field":"by","type":"quantitative","title":null},"text":{"field":"lab"}}},
{"transform":[{"filter":"datum.from==='PBS Liver' || datum.from==='4d Liver'"}],"mark":{"type":"text","baseline":"alphabetic","dy":3,"dx":19.4,"fontSize":14,"fontWeight":"bold","color":"#1a1a1a"},"encoding":{"x":{"field":"from","type":"nominal","title":null},"y":{"field":"by","type":"quantitative","title":null},"text":{"field":"lab"}}}
]}},
{"data":{"name":"B3"},"facet":{"row":{"field":"gene","type":"nominal","sort":["Il1rn","Emp1","Vat1"],"title":null,"header":{"labelPadding":17}}},"spacing":{"row":35},"bounds":"flush","resolve":{"scale":{"y":"independent"}},"spec":{"width":172,"height":116,"layer":[
{"transform":[{"filter":{"field":"m","valid":true}}],"mark":{"type":"bar","fill":"white","strokeWidth":2},"encoding":{"x":{"field":"grp","type":"nominal","title":null,"scale":{"domain":["PBS Liver","PBS BD","4d Liver","4d BD"]}},"y":{"field":"m","type":"quantitative","title":null,"scale":{"nice":false}},"stroke":{"field":"grp","type":"nominal","scale":{"domain":["PBS Liver","PBS BD","4d Liver","4d BD"],"range":["#f2342a","#1a1a1a","#2f4fe6","#2fc23a"]},"legend":null}}},
{"transform":[{"filter":"datum.grp==='PBS BD'"}],"mark":{"type":"bar","stroke":"#1a1a1a","strokeWidth":2,"fill":{"gradient":"linear","x1":0,"y1":0,"x2":1,"y2":0,"stops":[{"offset":0,"color":"#f2f2f2"},{"offset":0.075,"color":"#f2f2f2"},{"offset":0.075,"color":"#444"},{"offset":0.125,"color":"#444"},{"offset":0.125,"color":"#f2f2f2"},{"offset":0.2,"color":"#f2f2f2"},{"offset":0.2,"color":"#444"},{"offset":0.25,"color":"#444"},{"offset":0.25,"color":"#f2f2f2"},{"offset":0.325,"color":"#f2f2f2"},{"offset":0.325,"color":"#444"},{"offset":0.375,"color":"#444"},{"offset":0.375,"color":"#f2f2f2"},{"offset":0.45,"color":"#f2f2f2"},{"offset":0.45,"color":"#444"},{"offset":0.5,"color":"#444"},{"offset":0.5,"color":"#f2f2f2"},{"offset":0.575,"color":"#f2f2f2"},{"offset":0.575,"color":"#444"},{"offset":0.625,"color":"#444"},{"offset":0.625,"color":"#f2f2f2"},{"offset":0.7,"color":"#f2f2f2"},{"offset":0.7,"color":"#444"},{"offset":0.75,"color":"#444"},{"offset":0.75,"color":"#f2f2f2"},{"offset":0.825,"color":"#f2f2f2"},{"offset":0.825,"color":"#444"},{"offset":0.875,"color":"#444"},{"offset":0.875,"color":"#f2f2f2"},{"offset":0.95,"color":"#f2f2f2"},{"offset":0.95,"color":"#444"},{"offset":1,"color":"#444"}]}},"encoding":{"x":{"field":"grp","type":"nominal","title":null},"y":{"field":"m","type":"quantitative","title":null}}},
{"transform":[{"filter":{"field":"m","valid":true}}],"mark":{"type":"rule","strokeWidth":1.8},"encoding":{"x":{"field":"grp","type":"nominal","title":null},"y":{"field":"lo","type":"quantitative","title":null},"y2":{"field":"hi"},"color":{"field":"grp","type":"nominal","scale":{"domain":["PBS Liver","PBS BD","4d Liver","4d BD"],"range":["#f2342a","#1a1a1a","#2f4fe6","#2fc23a"]},"legend":null}}},
{"transform":[{"filter":{"field":"m","valid":true}},{"fold":["lo","hi"],"as":["e","ev"]}],"mark":{"type":"tick","size":14,"thickness":1.8},"encoding":{"x":{"field":"grp","type":"nominal","title":null},"y":{"field":"ev","type":"quantitative","title":null},"color":{"field":"grp","type":"nominal","legend":null}}},
{"transform":[{"filter":{"field":"m","valid":true}}],"mark":{"type":"point","filled":true,"opacity":1,"size":26},"encoding":{"x":{"field":"grp","type":"nominal","title":null,"bandPosition":0.22},"y":{"field":"p1","type":"quantitative","title":null},"color":{"field":"grp","type":"nominal","legend":null},"shape":{"field":"grp","type":"nominal","scale":{"domain":["PBS Liver","PBS BD","4d Liver","4d BD"],"range":["circle","square","triangle-up","triangle-down"]},"legend":null}}},
{"transform":[{"filter":{"field":"m","valid":true}}],"mark":{"type":"point","filled":true,"opacity":1,"size":26},"encoding":{"x":{"field":"grp","type":"nominal","title":null},"y":{"field":"p2","type":"quantitative","title":null},"color":{"field":"grp","type":"nominal","legend":null},"shape":{"field":"grp","type":"nominal","legend":null}}},
{"transform":[{"filter":{"field":"m","valid":true}}],"mark":{"type":"point","filled":true,"opacity":1,"size":26},"encoding":{"x":{"field":"grp","type":"nominal","title":null,"bandPosition":0.78},"y":{"field":"p3","type":"quantitative","title":null},"color":{"field":"grp","type":"nominal","legend":null},"shape":{"field":"grp","type":"nominal","legend":null}}},
{"transform":[{"filter":{"field":"top","valid":true}}],"mark":{"type":"rule","strokeWidth":2,"color":"#1a1a1a"},"encoding":{"y":{"datum":0,"type":"quantitative"}}},
{"transform":[{"filter":{"field":"top","valid":true}}],"mark":{"type":"point","opacity":0},"encoding":{"y":{"field":"top","type":"quantitative","title":null}}},
{"transform":[{"filter":{"field":"by","valid":true}}],"mark":{"type":"rule","strokeWidth":2,"color":"#1a1a1a"},"encoding":{"x":{"field":"from","type":"nominal","title":null},"x2":{"field":"to"},"y":{"field":"by","type":"quantitative","title":null}}},
{"transform":[{"filter":{"field":"by","valid":true}},{"fold":["from","to"],"as":["end","ex"]}],"mark":{"type":"tick","orient":"vertical","size":8,"thickness":2,"color":"#1a1a1a"},"encoding":{"x":{"field":"ex","type":"nominal","title":null},"y":{"field":"by","type":"quantitative","title":null}}},
{"transform":[{"filter":"datum.from==='PBS BD'"}],"mark":{"type":"text","baseline":"alphabetic","dy":3,"fontSize":14,"fontWeight":"bold","color":"#1a1a1a"},"encoding":{"x":{"datum":"4d Liver","type":"nominal"},"y":{"field":"by","type":"quantitative","title":null},"text":{"field":"lab"}}},
{"transform":[{"filter":"datum.from==='PBS Liver' || datum.from==='4d Liver'"}],"mark":{"type":"text","baseline":"alphabetic","dy":3,"dx":19.4,"fontSize":14,"fontWeight":"bold","color":"#1a1a1a"},"encoding":{"x":{"field":"from","type":"nominal","title":null},"y":{"field":"by","type":"quantitative","title":null},"text":{"field":"lab"}}}
]}}
]}
],
"spacing": 6,
"config": {
"font": "Liberation Sans",
"view": {"stroke": null},
"scale": {"bandPaddingInner": 0.3, "bandPaddingOuter": 0.37},
"axis": {"grid": false, "labelFontWeight": "bold", "labelColor": "#1a1a1a", "domainColor": "#1a1a1a", "domainWidth": 2, "tickColor": "#1a1a1a", "tickWidth": 1.5, "tickSize": 4, "labelPadding": 1},
"axisX": {"labelAngle": -45, "labelFontSize": 16},
"axisY": {"labelFontSize": 12, "tickCount": 4},
"header": {"labelAngle": -90, "labelFontSize": 19, "labelFontWeight": "bold", "labelFontStyle": "italic", "labelColor": "#111"},
"title": {"fontSize": 28, "fontWeight": "bold", "anchor": "start", "color": "#000", "offset": -10}
}
}
